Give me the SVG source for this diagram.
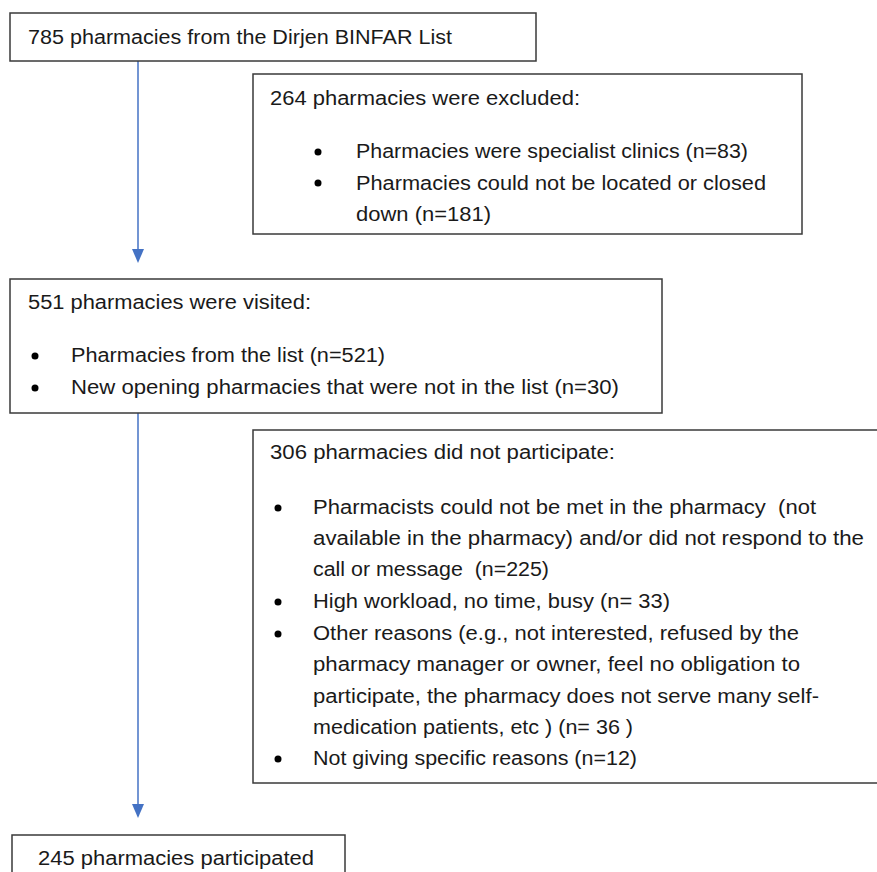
<svg xmlns="http://www.w3.org/2000/svg" width="877" height="872" viewBox="0 0 877 872">
<style>
.box{fill:#fff;stroke:#3a3a3a;stroke-width:1.5}
.t{font-family:"Liberation Sans",Arial,sans-serif;font-size:20px;fill:#1a1a1a;white-space:pre}
.conn{stroke:#4472C4;stroke-width:1.5;fill:none}
</style>
<defs>
<marker id="ah" viewBox="0 0 12 14" refX="6" refY="14" markerWidth="12" markerHeight="14" markerUnits="userSpaceOnUse" orient="auto-start-reverse">
<path d="M0,0 L12,0 L6,14 Z" fill="#4472C4"/>
</marker>
<circle id="b" r="3.5" fill="#000"/>
</defs>
<rect width="877" height="872" fill="#fff"/>
<g id="connectors">
<line class="conn" x1="138" y1="61" x2="138" y2="249"/>
<path d="M132,249 L144,249 L138,263 Z" fill="#4472C4"/>
<line class="conn" x1="138" y1="413" x2="138" y2="804"/>
<path d="M132,804 L144,804 L138,818 Z" fill="#4472C4"/>
</g>
<g id="n1">
<rect class="box" x="10" y="13" width="526" height="48"/>
<text class="t" x="28" y="44" textLength="424" lengthAdjust="spacingAndGlyphs">785 pharmacies from the Dirjen BINFAR List</text>
</g>
<g id="n2">
<rect class="box" x="253" y="74" width="549" height="160"/>
<text class="t" x="270" y="105" textLength="310" lengthAdjust="spacingAndGlyphs">264 pharmacies were excluded:</text>
<use href="#b" x="318" y="152"/>
<text class="t" x="356" y="158" textLength="392" lengthAdjust="spacingAndGlyphs">Pharmacies were specialist clinics (n=83)</text>
<use href="#b" x="318" y="183"/>
<text class="t" x="356" y="190" textLength="410" lengthAdjust="spacingAndGlyphs">Pharmacies could not be located or closed</text>
<text class="t" x="356" y="221" textLength="135" lengthAdjust="spacingAndGlyphs">down (n=181)</text>
</g>
<g id="n3">
<rect class="box" x="10" y="279" width="652" height="134"/>
<text class="t" x="28" y="309" textLength="283" lengthAdjust="spacingAndGlyphs">551 pharmacies were visited:</text>
<use href="#b" x="35" y="356"/>
<text class="t" x="71" y="362" textLength="314" lengthAdjust="spacingAndGlyphs">Pharmacies from the list (n=521)</text>
<use href="#b" x="35" y="388"/>
<text class="t" x="71" y="394" textLength="548" lengthAdjust="spacingAndGlyphs">New opening pharmacies that were not in the list (n=30)</text>
</g>
<g id="n4">
<rect class="box" x="253" y="430" width="640" height="353"/>
<text class="t" x="270" y="459" textLength="345" lengthAdjust="spacingAndGlyphs">306 pharmacies did not participate:</text>
<use href="#b" x="278" y="508"/>
<text class="t" x="313" y="514" textLength="503" lengthAdjust="spacingAndGlyphs">Pharmacists could not be met in the pharmacy  (not</text>
<text class="t" x="313" y="545" textLength="551" lengthAdjust="spacingAndGlyphs">available in the pharmacy) and/or did not respond to the</text>
<text class="t" x="313" y="576" textLength="236" lengthAdjust="spacingAndGlyphs">call or message  (n=225)</text>
<use href="#b" x="278" y="602"/>
<text class="t" x="313" y="608" textLength="357" lengthAdjust="spacingAndGlyphs">High workload, no time, busy (n= 33)</text>
<use href="#b" x="278" y="634"/>
<text class="t" x="313" y="640" textLength="486" lengthAdjust="spacingAndGlyphs">Other reasons (e.g., not interested, refused by the</text>
<text class="t" x="313" y="671" textLength="487" lengthAdjust="spacingAndGlyphs">pharmacy manager or owner, feel no obligation to</text>
<text class="t" x="313" y="703" textLength="506" lengthAdjust="spacingAndGlyphs">participate, the pharmacy does not serve many self-</text>
<text class="t" x="313" y="734" textLength="320" lengthAdjust="spacingAndGlyphs">medication patients, etc ) (n= 36 )</text>
<use href="#b" x="278" y="759"/>
<text class="t" x="313" y="765" textLength="324" lengthAdjust="spacingAndGlyphs">Not giving specific reasons (n=12)</text>
</g>
<g id="n5">
<rect class="box" x="12" y="835" width="333" height="60"/>
<text class="t" x="38" y="865" textLength="276" lengthAdjust="spacingAndGlyphs">245 pharmacies participated</text>
</g>
</svg>
